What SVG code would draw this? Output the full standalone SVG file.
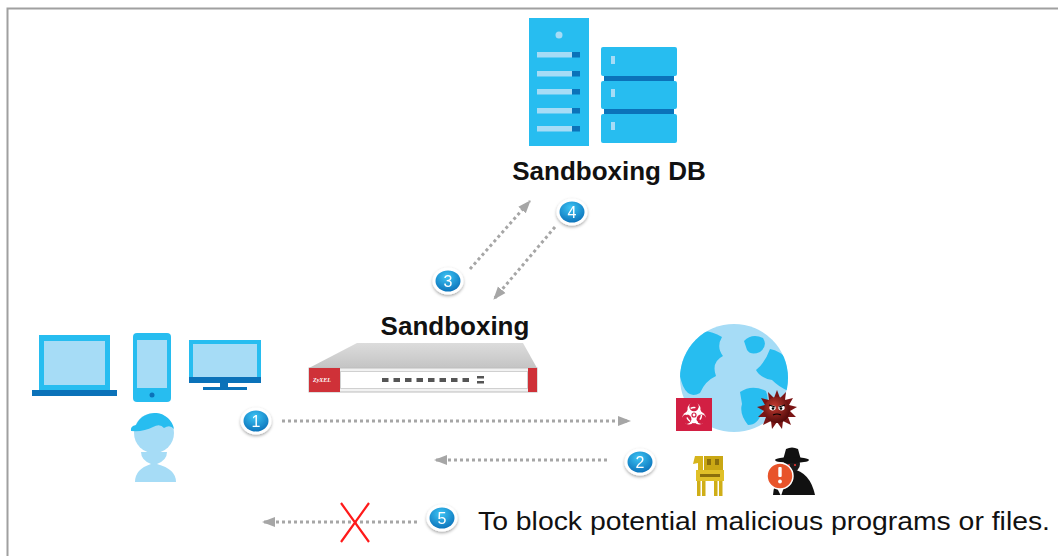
<svg xmlns="http://www.w3.org/2000/svg" width="1058" height="556" viewBox="0 0 1058 556">
  <style>
    .title { font-family: "Liberation Sans", Arial, sans-serif; font-weight: bold; font-size: 26px; fill: #111; text-anchor: middle; }
    .caption { font-family: "Liberation Sans", Arial, sans-serif; font-size: 26px; fill: #111; }
    .num { font-family: "Liberation Sans", Arial, sans-serif; font-size: 16px; fill: #fff; text-anchor: middle; }
    .flow { fill: none; stroke: #a6a6a6; stroke-width: 3; stroke-dasharray: 3 3; }
    .mid { fill: #27bdf0; }
    .light { fill: #a6dcf6; }
    .dark { fill: #0b72b9; }
  </style>
  <defs>
    <marker id="head" markerUnits="userSpaceOnUse" markerWidth="14" markerHeight="12" refX="12" refY="6" orient="auto">
      <path d="M0,1 L13,6 L0,11 Z" fill="#a6a6a6"/>
    </marker>
    <radialGradient id="badgeFill" cx="0.45" cy="0.3" r="0.75">
      <stop offset="0" stop-color="#3cc4f4"/>
      <stop offset="1" stop-color="#0a6fb8"/>
    </radialGradient>
    <radialGradient id="virusFill" cx="0.4" cy="0.35" r="0.7">
      <stop offset="0" stop-color="#c23a30"/>
      <stop offset="1" stop-color="#4d0808"/>
    </radialGradient>
    <linearGradient id="topFace" x1="0" y1="0" x2="0" y2="1">
      <stop offset="0" stop-color="#dcdcdc"/>
      <stop offset="1" stop-color="#c4c4c4"/>
    </linearGradient>
    <filter id="shadow" x="-50%" y="-50%" width="200%" height="200%">
      <feDropShadow dx="0" dy="1.5" stdDeviation="1.5" flood-color="#000" flood-opacity="0.35"/>
    </filter>
    <clipPath id="globeClip"><circle cx="734" cy="378" r="54"/></clipPath>
  </defs>

  <!-- frame edges -->
  <path d="M7.5,556 V8.5 H1058" fill="none" stroke="#a0a0a0" stroke-width="2"/>

  <!-- connectors -->
  <g id="connectors">
    <path class="flow" d="M470,269 L530,201" marker-end="url(#head)"/>
    <path class="flow" d="M555,227 L494,299" marker-end="url(#head)"/>
    <path class="flow" d="M282,421 L630,421" marker-end="url(#head)"/>
    <path class="flow" d="M607,460 L435,460" marker-end="url(#head)"/>
    <path class="flow" d="M417,522 L263,522" marker-end="url(#head)"/>
    <path d="M341,503 L369,542 M369,503 L341,542" stroke="#ff1a1a" stroke-width="2.2" fill="none"/>
  </g>

  <!-- database servers -->
  <g id="sandboxing-db">
    <rect class="mid" x="529" y="18" width="60" height="128"/>
    <circle class="light" cx="559" cy="35" r="3.5"/>
    <g>
      <rect class="light" x="537" y="52" width="35" height="5.5"/>
      <rect class="dark" x="572" y="52" width="8" height="5.5"/>
      <rect class="light" x="537" y="71" width="35" height="5.5"/>
      <rect class="dark" x="572" y="71" width="8" height="5.5"/>
      <rect class="light" x="537" y="89" width="35" height="5.5"/>
      <rect class="dark" x="572" y="89" width="8" height="5.5"/>
      <rect class="light" x="537" y="108" width="35" height="5.5"/>
      <rect class="dark" x="572" y="108" width="8" height="5.5"/>
      <rect class="light" x="537" y="126" width="35" height="5.5"/>
      <rect class="dark" x="572" y="126" width="8" height="5.5"/>
    </g>
    <rect class="dark" x="604" y="74" width="70" height="42"/>
    <rect class="mid" x="601" y="47" width="76" height="29" rx="2"/>
    <rect class="mid" x="601" y="81" width="76" height="28" rx="2"/>
    <rect class="mid" x="601" y="114" width="76" height="29" rx="2"/>
    <rect class="light" x="611" y="56" width="4" height="8"/>
    <rect class="light" x="611" y="89" width="4" height="8"/>
    <rect class="light" x="611" y="122" width="4" height="8"/>
    <text class="title" x="609" y="180">Sandboxing DB</text>
  </g>

  <!-- firewall appliance -->
  <g id="sandboxing">
    <text class="title" x="455" y="335">Sandboxing</text>
    <polygon points="357,343 523,343 537,368 309,368" fill="url(#topFace)"/>
    <rect x="309" y="368" width="228" height="24" fill="#f2f2f2" stroke="#bdbdbd" stroke-width="1"/>
    <rect x="309" y="368" width="31" height="24" fill="#cf3138"/>
    <text x="313" y="382" font-family="Liberation Serif, serif" font-style="italic" font-weight="bold" font-size="6" fill="#fff">ZyXEL</text>
    <rect x="528" y="368" width="9" height="24" fill="#cf3138"/>
    <rect x="340.5" y="371.5" width="187" height="17" fill="#fff" stroke="#d0d0d0"/>
    <g fill="#555">
      <rect x="382" y="378" width="6.5" height="4"/>
      <rect x="393.5" y="378" width="6.5" height="4"/>
      <rect x="405" y="378" width="6.5" height="4"/>
      <rect x="416.5" y="378" width="6.5" height="4"/>
      <rect x="428" y="378" width="6.5" height="4"/>
      <rect x="439.5" y="378" width="6.5" height="4"/>
      <rect x="451" y="378" width="6.5" height="4"/>
      <rect x="462.5" y="378" width="6.5" height="4"/>
      <rect x="477" y="376" width="7" height="2.5"/>
      <rect x="477" y="381" width="7" height="2.5"/>
    </g>
  </g>

  <!-- client devices and user -->
  <g id="clients">
    <rect class="mid" x="39" y="335" width="71" height="55"/>
    <rect class="light" x="44" y="341" width="61" height="44"/>
    <rect class="dark" x="32" y="390" width="85" height="6"/>

    <rect class="mid" x="133" y="333" width="38" height="69" rx="4"/>
    <rect class="light" x="137" y="340" width="30" height="48"/>
    <circle class="dark" cx="152" cy="395" r="2.5"/>

    <rect class="mid" x="189" y="340" width="72" height="38"/>
    <rect class="light" x="193" y="344" width="64" height="33"/>
    <rect class="dark" x="189" y="377" width="72" height="6"/>
    <rect class="dark" x="220" y="383" width="8" height="5"/>
    <rect class="dark" x="203" y="387" width="44" height="3"/>

    <circle class="light" cx="154" cy="433" r="20"/>
    <path class="mid" d="M131,431 Q130,426 136,425 A20,20 0 0 1 174,429 Q170,424 164,428 Q160,423 153,427 Q144,432 131,431 Z"/>
    <path class="light" d="M141,452 L167,452 Q167,460 157,464 Q176,469 176,482 L135,482 Q135,469 151,464 Q141,460 141,452 Z"/>
  </g>

  <!-- internet and threats -->
  <g id="internet">
    <circle class="light" cx="734" cy="378" r="54"/>
    <g clip-path="url(#globeClip)" class="mid">
      <path d="M688,336 Q704,326 722,337 Q716,347 723,356 Q711,362 716,376 Q705,381 700,393 Q689,399 683,386 Q677,371 680,358 Z"/>
      <path d="M744,341 Q752,333 763,338 Q768,346 760,352 Q751,356 747,350 Z"/>
      <path d="M770,349 Q781,351 790,362 L792,392 Q781,389 772,380 Q760,378 756,370 Q765,363 770,349 Z"/>
      <path d="M740,392 Q752,384 766,391 Q771,404 762,412 Q758,425 748,425 Q739,414 742,404 Z"/>
    </g>

    <!-- biohazard -->
    <rect x="676" y="398" width="36" height="33" fill="#d21f43"/>
    <g transform="translate(694,415)">
      <g fill="#fff">
        <circle cx="0" cy="-6" r="6.5"/>
        <circle cx="5.2" cy="3" r="6.5"/>
        <circle cx="-5.2" cy="3" r="6.5"/>
      </g>
      <g fill="#d21f43">
        <circle cx="0" cy="-8.5" r="4.8"/>
        <circle cx="7.4" cy="4.2" r="4.8"/>
        <circle cx="-7.4" cy="4.2" r="4.8"/>
        <circle cx="0" cy="0" r="2.6"/>
      </g>
      <circle cx="0" cy="0" r="7.5" fill="none" stroke="#fff" stroke-width="1.4" stroke-dasharray="5 2.9"/>
      <circle cx="0" cy="0" r="1.4" fill="#fff"/>
    </g>

    <!-- virus -->
    <g transform="translate(777,410)">
      <polygon fill="#7a1414" points="0,-20 3,-12 9,-18 8,-10 16,-12 12,-5 20,-3 13,1 19,7 11,7 14,15 6,11 5,19 0,12 -5,19 -6,11 -14,15 -11,7 -19,7 -13,1 -20,-3 -12,-5 -16,-12 -8,-10 -9,-18 -3,-12"/>
      <circle r="13" fill="url(#virusFill)"/>
      <ellipse cx="-4.5" cy="-2" rx="3.2" ry="2.4" fill="#fff"/>
      <ellipse cx="4.5" cy="-2" rx="3.2" ry="2.4" fill="#fff"/>
      <circle cx="-4" cy="-1.5" r="1.3" fill="#000"/>
      <circle cx="4" cy="-1.5" r="1.3" fill="#000"/>
      <path d="M-8,-5 L-2,-3 M8,-5 L2,-3" stroke="#000" stroke-width="1.3"/>
      <path d="M-4,5 Q0,3 4,5" stroke="#000" stroke-width="1.2" fill="none"/>
    </g>

    <!-- trojan horse -->
    <g>
      <rect x="704" y="456" width="19" height="15" fill="#c9a714"/>
      <rect x="707" y="459" width="4" height="6" fill="#8a6f0c"/>
      <rect x="715" y="459" width="4" height="6" fill="#8a6f0c"/>
      <path d="M695,456 L703,456 L703,472 L698,472 L698,463 L693,464 Z" fill="#d6b41c"/>
      <rect x="696" y="470" width="28" height="11" fill="#e0c028"/>
      <rect x="700" y="474" width="20" height="3" fill="#8a6f0c"/>
      <rect x="697" y="481" width="3.5" height="15" fill="#cfae17"/>
      <rect x="702" y="481" width="3.5" height="15" fill="#cfae17"/>
      <rect x="714" y="481" width="3.5" height="15" fill="#cfae17"/>
      <rect x="719" y="481" width="3.5" height="15" fill="#cfae17"/>
    </g>

    <!-- spy with alert -->
    <g>
      <path d="M773,495 Q775,472 792,469 Q810,472 815,495 Z" fill="#111"/>
      <circle cx="792" cy="464" r="8" fill="#1a1a1a"/>
      <path d="M783,460 L786,449 Q792,446 798,449 L801,460 Z" fill="#111"/>
      <ellipse cx="792" cy="460" rx="17" ry="3" fill="#111"/>
      <circle cx="789" cy="465" r="1.1" fill="#e33"/>
      <circle cx="795" cy="465" r="1.1" fill="#e33"/>
      <path d="M776,486 L781,496 L784,487 Z" fill="#fff"/>
      <circle cx="780" cy="476" r="13" fill="#e8542a" stroke="#fff" stroke-width="1.5"/>
      <rect x="778.3" y="467" width="3.4" height="10" rx="1" fill="#fff"/>
      <circle cx="780" cy="481.5" r="1.9" fill="#fff"/>
    </g>
  </g>

  <!-- step badges -->
  <g id="badge-1" filter="url(#shadow)">
    <ellipse cx="256" cy="421" rx="15.5" ry="13.5" fill="#fff"/>
    <ellipse cx="256" cy="421" rx="12.5" ry="10.5" fill="url(#badgeFill)"/>
    <text class="num" x="256" y="427">1</text>
  </g>
  <g id="badge-2" filter="url(#shadow)">
    <ellipse cx="640" cy="462" rx="15.5" ry="13.5" fill="#fff"/>
    <ellipse cx="640" cy="462" rx="12.5" ry="10.5" fill="url(#badgeFill)"/>
    <text class="num" x="640" y="468">2</text>
  </g>
  <g id="badge-3" filter="url(#shadow)">
    <ellipse cx="448" cy="281" rx="15.5" ry="13.5" fill="#fff"/>
    <ellipse cx="448" cy="281" rx="12.5" ry="10.5" fill="url(#badgeFill)"/>
    <text class="num" x="448" y="287">3</text>
  </g>
  <g id="badge-4" filter="url(#shadow)">
    <ellipse cx="572" cy="212" rx="15.5" ry="13.5" fill="#fff"/>
    <ellipse cx="572" cy="212" rx="12.5" ry="10.5" fill="url(#badgeFill)"/>
    <text class="num" x="572" y="218">4</text>
  </g>
  <g id="badge-5" filter="url(#shadow)">
    <ellipse cx="442" cy="518" rx="15.5" ry="13.5" fill="#fff"/>
    <ellipse cx="442" cy="518" rx="12.5" ry="10.5" fill="url(#badgeFill)"/>
    <text class="num" x="442" y="524">5</text>
  </g>

  <g id="caption">
    <text class="caption" x="478" y="530" textLength="572" lengthAdjust="spacingAndGlyphs">To block potential malicious programs or files.</text>
  </g>
</svg>
